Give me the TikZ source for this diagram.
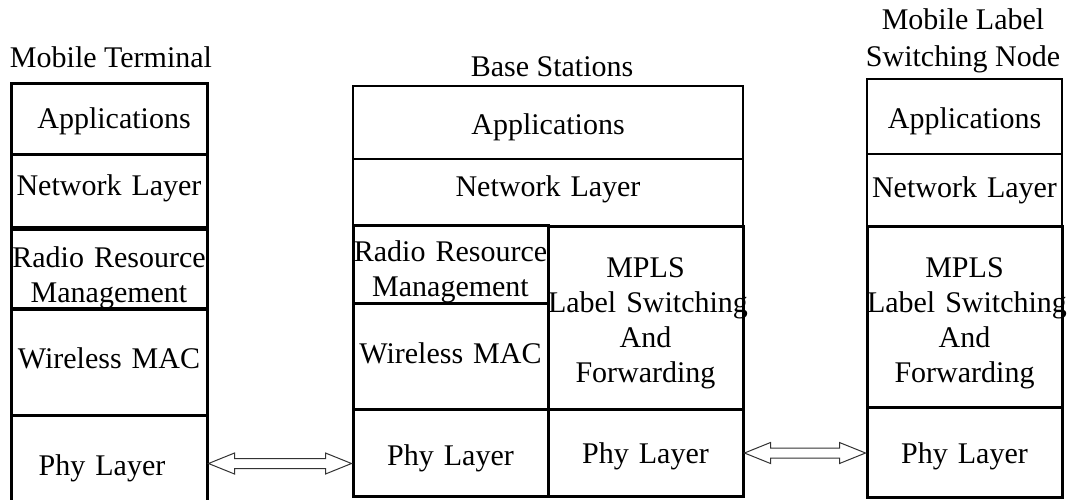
\documentclass[tikz,border=0pt]{standalone}
\usepackage{fontspec}
\setmainfont{Liberation Serif}
\usetikzlibrary{calc}
\tikzset{
  cell/.style={draw, rectangle, inner xsep=0pt, inner ysep=0pt, align=center,
    font=\fontsize{30pt}{35pt}\selectfont},
  thincell/.style={cell, line width=1.3pt},
  midcell/.style={cell, line width=1.7pt},
  thickcell/.style={cell, line width=3pt},
  title/.style={inner sep=0pt, align=center, font=\fontsize{30pt}{37pt}\selectfont},
  conn/.style={draw=black!80, line width=1pt, fill=white, line join=miter},
}
\newcommand{\hollowarrow}[3]{%
  \draw[conn] let \p1=(#1), \p2=(#2) in
    (\x1,#3) -- (\x1+26pt,#3+10.5pt) -- (\x1+26pt,#3+5pt) -- (\x2-26pt,#3+5pt)
    -- (\x2-26pt,#3+10.5pt) -- (\x2,#3) -- (\x2-26pt,#3-10.5pt) -- (\x2-26pt,#3-5pt)
    -- (\x1+26pt,#3-5pt) -- (\x1+26pt,#3-10.5pt) -- cycle;}
\newcommand{\dn}[2]{\raisebox{-#1pt}[\height][\depth]{#2}}
\newcommand{\tallfirst}[1]{\rule{0pt}{#1pt}}
\begin{document}
\begin{tikzpicture}[x=1pt, y=-1pt]
\useasboundingbox (0,0) rectangle (1068,499);

% Titles
\node[title] (mttitle) at (111,57) {Mobile Terminal};
\node[title] (bstitle) at (552,67) {Base Stations};
\node[title] (mltitle) at (963,41) {Mobile Label\\Switching Node};

% Mobile Terminal stack
\node[thickcell, text width=196pt, minimum height=71pt]  (mtapp) at (109,118.5) {\dn{3}{\hspace*{10pt}Applications}};
\node[thickcell, text width=196pt, minimum height=75pt]  (mtnet) at (109,191.5) {\dn{-3}{Network Layer}};
\node[thickcell, text width=196pt, minimum height=79pt]  (mtrrm) at (109,268.5) {\tallfirst{40}\mbox{Radio Resource}\\Management};
\node[thickcell, text width=196pt, minimum height=107pt] (mtmac) at (109,361.5) {\dn{-3}{Wireless MAC}};
\node[thickcell, text width=196pt, minimum height=91pt]  (mtphy) at (109,460.5) {\dn{8}{Phy Layer\hspace*{14pt}}};

% Base Stations stack
\node[thincell, text width=390pt, minimum height=73pt]  (bsapp) at (548,122.5) {\dn{5}{Applications}};
\node[thincell, text width=390pt, minimum height=67pt]  (bsnet) at (548,192.5) {\dn{-3}{Network Layer}};
\node[thickcell, text width=195pt, minimum height=77pt]  (bsrrm) at (450.5,264.5) {\tallfirst{36}\mbox{Radio Resource}\\Management};
\node[thickcell, text width=195pt, minimum height=106pt] (bsmac) at (450.5,356) {\dn{-3}{Wireless MAC}};
\node[thickcell, text width=195pt, minimum height=87pt]  (bsphyl) at (450.5,452.5) {\dn{6}{Phy Layer}};
\node[thickcell, text width=195pt, minimum height=183pt] (bsmpls) at (645.5,317.5) {\tallfirst{32}MPLS\\\mbox{Label Switching}\\And\\Forwarding};
\node[thickcell, text width=195pt, minimum height=87pt]  (bsphyr) at (645.5,452.5) {\dn{4}{Phy Layer}};

% Mobile Label Switching Node stack
\node[midcell, text width=195pt, minimum height=75pt]  (mlapp) at (964.5,116.5) {\dn{5}{Applications}};
\node[midcell, text width=195pt, minimum height=72pt]  (mlnet) at (964.5,190) {\mbox{Network Layer}};
\node[thickcell, text width=195pt, minimum height=181pt] (mlmpls) at (964.5,316.5) {\tallfirst{34}MPLS\\\mbox{Label Switching}\\And\\Forwarding};
\node[thickcell, text width=195pt, minimum height=90pt]  (mlphy) at (964.5,452) {\dn{4}{Phy Layer}};

% Connectors
\hollowarrow{mtphy.east}{bsphyl.west}{-463.5pt}
\hollowarrow{bsphyr.east}{mlphy.west}{-453pt}
\end{tikzpicture}
\end{document}
